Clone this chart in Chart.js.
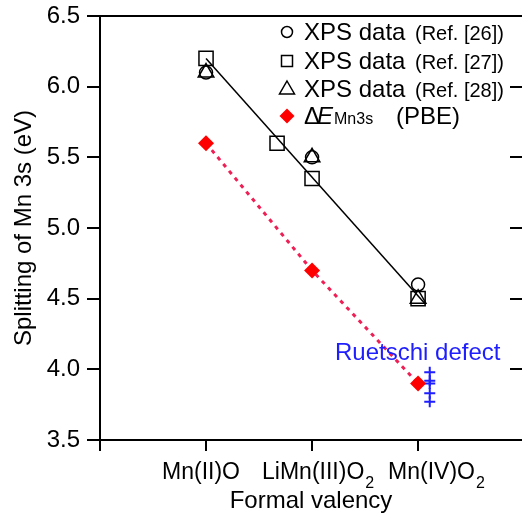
<!DOCTYPE html>
<html>
<head>
<meta charset="utf-8">
<script src="https://cdn.jsdelivr.net/npm/chart.js@4.4.1/dist/chart.umd.min.js"></script>
<style>
  html, body { margin: 0; padding: 0; background: #fff; overflow: hidden; }
</style>
</head>
<body>
<canvas id="chart" width="522" height="519"></canvas>
<script>
// categories on the x axis (positions 1, 2, 3)
const categories = ["Mn(II)O", "LiMn(III)O", "Mn(IV)O"];
const categorySub = ["", "2", "2"];
const categoryX = [1, 2, 3];

// XPS data
const ref26X = [1, 2, 3];
const ref26 = [6.1, 5.5, 4.6];
const ref27X = [1, 1.67, 2, 3];
const ref27 = [6.2, 5.6, 5.35, 4.5];
const ref28X = [1, 2, 3];
const ref28 = [6.1, 5.5, 4.5];

// PBE splitting
const pbeX = [1, 2, 3];
const pbe = [5.6, 4.7, 3.9];

// linear trend through the XPS points
const fitX = [1, 3.07];
const fitY = [6.2, 4.46];

// Ruetschi defect values
const ruetschiX = [3.11, 3.11, 3.11, 3.11, 3.11];
const ruetschi = [3.98, 3.92, 3.9, 3.83, 3.77];

const yTicks = [3.5, 4.0, 4.5, 5.0, 5.5, 6.0, 6.5];

const FONT = '"Liberation Sans", Arial, Helvetica, sans-serif';
const pts = (xs, ys) => xs.map((v, i) => ({ x: v, y: ys[i] }));

// no automatic padding around the axes, the layout is fixed
function noPad(s) {
  s.paddingLeft = 0;
  s.paddingRight = 0;
  s.paddingTop = 0;
  s.paddingBottom = 0;
}

const overlay = {
  id: "overlay",
  afterDraw(chart) {
    const { ctx, chartArea, scales: { x, y } } = chart;
    ctx.save();

    // inward ticks on the right side
    ctx.strokeStyle = "#000";
    ctx.lineWidth = 2;
    yTicks.slice(1, -1).forEach(v => {
      const py = Math.round(y.getPixelForValue(v));
      ctx.beginPath();
      ctx.moveTo(chartArea.right - 12, py);
      ctx.lineTo(chartArea.right, py);
      ctx.stroke();
    });

    // category labels with subscripts
    const shift = [-44, -50, -30];
    ctx.fillStyle = "#000";
    ctx.textBaseline = "alphabetic";
    categories.forEach((c, i) => {
      const left = x.getPixelForValue(categoryX[i]) + shift[i];
      ctx.font = "23px " + FONT;
      ctx.fillText(c, left, 479);
      if (categorySub[i]) {
        const w = ctx.measureText(c).width;
        ctx.font = "16px " + FONT;
        ctx.fillText(categorySub[i], left + w + 1, 488);
      }
    });

    // annotation
    ctx.fillStyle = "#1e1eff";
    ctx.font = "24px " + FONT;
    ctx.fillText("Ruetschi defect", 335, 360);

    // legend
    const mx = 287, tx = 304;
    const rows = [40, 69, 97, 124];
    ctx.strokeStyle = "#000";
    ctx.lineWidth = 1.5;
    ctx.beginPath();
    ctx.arc(mx, rows[0] - 8, 5.5, 0, Math.PI * 2);
    ctx.stroke();
    ctx.strokeRect(mx - 5.5, rows[1] - 13.5, 11, 11);
    ctx.beginPath();
    ctx.moveTo(mx, rows[2] - 16);
    ctx.lineTo(mx + 7.5, rows[2] - 3);
    ctx.lineTo(mx - 7.5, rows[2] - 3);
    ctx.closePath();
    ctx.stroke();
    ctx.fillStyle = "#ff0000";
    ctx.beginPath();
    ctx.moveTo(mx, rows[3] - 15.5);
    ctx.lineTo(mx + 7.5, rows[3] - 8);
    ctx.lineTo(mx, rows[3] - 0.5);
    ctx.lineTo(mx - 7.5, rows[3] - 8);
    ctx.closePath();
    ctx.fill();

    ctx.fillStyle = "#000";
    ["[26]", "[27]", "[28]"].forEach((r, i) => {
      ctx.font = "24px " + FONT;
      ctx.fillText("XPS data", tx, rows[i]);
      ctx.font = "20px " + FONT;
      ctx.fillText("(Ref. " + r + ")", 415, rows[i]);
    });
    ctx.font = "24px " + FONT;
    ctx.fillText("\u0394", tx, rows[3]);
    ctx.font = "italic 24px " + FONT;
    ctx.fillText("E", 317, rows[3]);
    ctx.font = "16px " + FONT;
    ctx.fillText("Mn3s", 334, rows[3]);
    ctx.font = "24px " + FONT;
    ctx.fillText("(PBE)", 396, rows[3]);

    ctx.restore();
  }
};

new Chart(document.getElementById("chart"), {
  type: "scatter",
  data: {
    datasets: [
      {
        label: "fit",
        data: pts(fitX, fitY),
        showLine: true,
        borderColor: "#000",
        borderWidth: 1.5,
        pointRadius: 0
      },
      {
        label: "XPS data (Ref. [26])",
        data: pts(ref26X, ref26),
        pointStyle: "circle",
        pointRadius: 6.5,
        pointBorderWidth: 1.5,
        pointBorderColor: "#000",
        pointBackgroundColor: "rgba(0,0,0,0)"
      },
      {
        label: "XPS data (Ref. [27])",
        data: pts(ref27X, ref27),
        pointStyle: "rect",
        pointRadius: 10,
        pointBorderWidth: 1.5,
        pointBorderColor: "#000",
        pointBackgroundColor: "rgba(0,0,0,0)"
      },
      {
        label: "XPS data (Ref. [28])",
        data: pts(ref28X, ref28),
        pointStyle: "triangle",
        pointRadius: 9,
        pointBorderWidth: 1.5,
        pointBorderColor: "#000",
        pointBackgroundColor: "rgba(0,0,0,0)"
      },
      {
        label: "dE Mn3s (PBE)",
        data: pts(pbeX, pbe),
        showLine: true,
        borderColor: "#ee1f55",
        borderWidth: 3,
        borderDash: [4, 5],
        pointStyle: "rectRot",
        pointRadius: 8,
        pointBorderWidth: 0,
        pointBackgroundColor: "#ff0000"
      },
      {
        label: "Ruetschi defect",
        data: pts(ruetschiX, ruetschi),
        pointStyle: "cross",
        pointRadius: 5.5,
        pointBorderWidth: 2,
        pointBorderColor: "#1e1eff"
      }
    ]
  },
  options: {
    responsive: false,
    animation: false,
    devicePixelRatio: 1,
    layout: { autoPadding: false, padding: { top: 16, left: 0, right: 0, bottom: 0 } },
    plugins: {
      legend: { display: false },
      tooltip: { enabled: false }
    },
    scales: {
      x: {
        type: "linear",
        position: "bottom",
        min: 0,
        max: 3.98,
        afterBuildTicks: s => { s.ticks = [0, 1, 2, 3].map(v => ({ value: v })); },
        afterFit: s => { s.height = 79; noPad(s); },
        ticks: { display: false },
        grid: { drawOnChartArea: false, tickLength: 11, color: "#000", lineWidth: 2 },
        border: { color: "#000", width: 2 },
        title: {
          display: true,
          text: "Formal valency",
          color: "#000",
          font: { family: FONT, size: 24, lineHeight: 1.2 },
          padding: { top: 0, bottom: 3 }
        }
      },
      x2: {
        type: "linear",
        position: "top",
        min: 0,
        max: 3.98,
        afterFit: s => { s.height = 0; noPad(s); },
        ticks: { display: false },
        grid: { display: false },
        border: { color: "#000", width: 2 }
      },
      y: {
        position: "left",
        min: 3.5,
        max: 6.5,
        afterFit: s => { s.width = 100; noPad(s); },
        ticks: {
          stepSize: 0.5,
          padding: 7,
          color: "#000",
          font: { family: FONT, size: 24 },
          callback: v => v.toFixed(1)
        },
        grid: { drawOnChartArea: false, tickLength: 13, color: "#000", lineWidth: 2 },
        border: { color: "#000", width: 2 },
        title: {
          display: true,
          text: "Splitting of Mn 3s (eV)",
          color: "#000",
          font: { family: FONT, size: 24, lineHeight: 1.2 },
          padding: { top: 10, bottom: 0 }
        }
      }
    }
  },
  plugins: [overlay]
});
</script>
</body>
</html>
